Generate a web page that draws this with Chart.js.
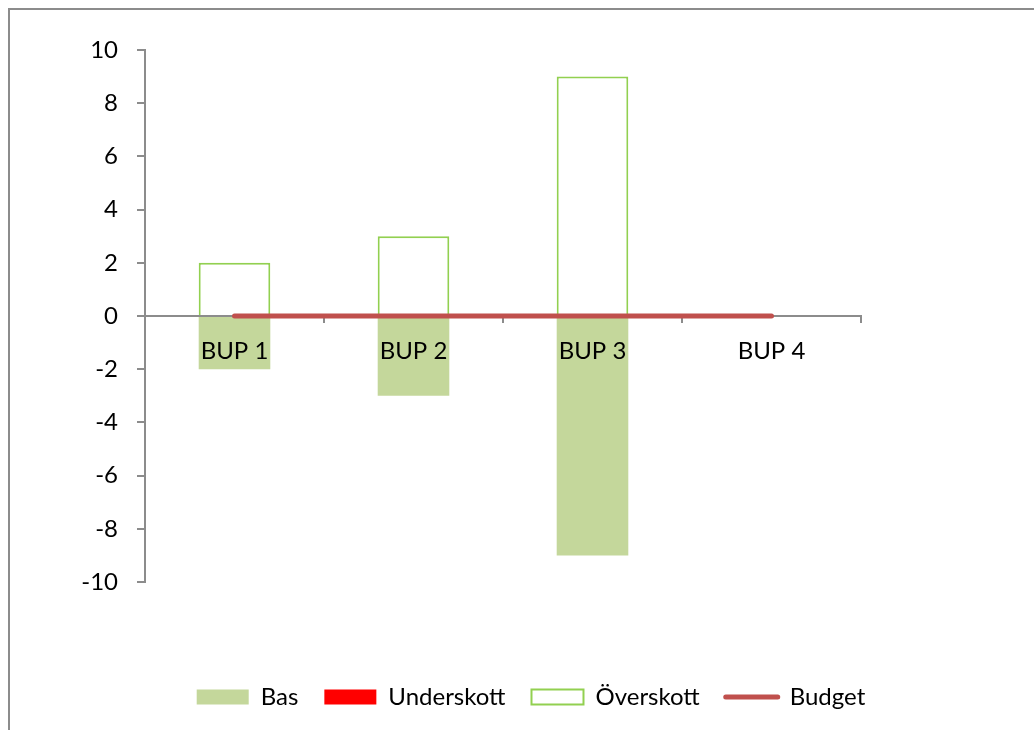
<!DOCTYPE html>
<html>
<head>
<meta charset="utf-8">
<script src="https://cdn.jsdelivr.net/npm/chart.js@4/dist/chart.umd.min.js"></script>
<style>
  html, body { margin: 0; padding: 0; background: #fff; overflow: hidden; }
  .frame {
    position: absolute; left: 8px; top: 8px; width: 2000px; height: 2000px;
    border-left: 2px solid #8c8c8c; border-top: 2px solid #8c8c8c;
  }
  #chart { position: absolute; left: 0; top: 0; }
</style>
</head>
<body>
<div class="frame"></div>
<canvas id="chart" width="1034" height="730"></canvas>
<script>
const categories = ['BUP 1', 'BUP 2', 'BUP 3', 'BUP 4'];
const basValues = [-2, -3, -9, 0];
const underskottValues = [0, 0, 0, 0];
const overskottValues = [2, 3, 9, 0];
const budgetValues = [0, 0, 0, 0];
const yMin = -10;
const yMax = 10;
const yStep = 2;

const AXIS_GREY = '#8c8c8c';
const LEGEND_PAD = 26;
const LEGEND_CENTER_X = 531;
const LEGEND_TOP = 697 - 12 - LEGEND_PAD;
// legend height = font 24 + padding + 10, plot bottom must land on y=582
const BOTTOM_PAD = 730 - 582 - (24 + LEGEND_PAD + 10);

Chart.defaults.font.family = 'Lato';
Chart.defaults.font.size = 24;
Chart.defaults.color = '#000';

// move the legend to where Excel put it, the layout alone can't do that
const legendShift = {
  id: 'legendShift',
  afterLayout(chart) {
    const lg = chart.legend;
    if (!lg) return;
    const dx = LEGEND_CENTER_X - (lg.left + lg.right) / 2;
    const dy = LEGEND_TOP - lg.top;
    lg.left += dx; lg.right += dx;
    lg.top += dy; lg.bottom += dy;
  }
};

new Chart(document.getElementById('chart'), {
  type: 'bar',
  data: {
    labels: categories,
    datasets: [
      { label: 'Bas', data: basValues, backgroundColor: '#C4D79B', borderWidth: 0 },
      { label: 'Underskott', data: underskottValues, backgroundColor: '#FF0000', borderWidth: 0 },
      { label: 'Överskott', data: overskottValues, backgroundColor: '#ffffff', borderColor: '#92D050', borderWidth: 2 },
      {
        type: 'line', label: 'Budget', data: budgetValues, order: -1,
        borderColor: '#C0504D', borderWidth: 5, borderCapStyle: 'round',
        pointRadius: 0, fill: false,
      },
    ],
  },
  options: {
    responsive: false,
    animation: false,
    devicePixelRatio: 1,
    categoryPercentage: 0.8,
    barPercentage: 0.5,
    layout: { padding: { left: 0, top: 50, right: 173, bottom: BOTTOM_PAD } },
    scales: {
      x: {
        stacked: true,
        position: { y: 0 },
        grid: { drawOnChartArea: false, offset: true, tickLength: 6, color: AXIS_GREY, lineWidth: 2 },
        border: { color: AXIS_GREY, width: 2 },
        // labels sit on top of the bars, like in Excel
        ticks: { padding: 15, color: '#000', z: 1 },
      },
      y: {
        stacked: true,
        min: yMin, max: yMax,
        afterFit(scale) { scale.width = 145; },
        grid: { drawOnChartArea: false, tickLength: 8, color: AXIS_GREY, lineWidth: 2 },
        border: { color: AXIS_GREY, width: 2 },
        ticks: { stepSize: yStep, padding: 19, color: '#000' },
      },
    },
    plugins: {
      tooltip: { enabled: false },
      legend: {
        position: 'bottom',
        labels: {
          usePointStyle: true,
          pointStyleWidth: 52,
          boxHeight: 15,
          padding: LEGEND_PAD,
          generateLabels(chart) {
            return chart.data.datasets.map((ds, i) => {
              const isLine = ds.type === 'line';
              return {
                text: ds.label,
                datasetIndex: i,
                pointStyle: isLine ? 'line' : 'rect',
                fillStyle: isLine ? ds.borderColor : ds.backgroundColor,
                strokeStyle: ds.borderColor || ds.backgroundColor,
                lineWidth: isLine ? 5 : (ds.borderWidth || 0),
                lineCap: isLine ? 'round' : 'butt',
                fontColor: '#000',
                hidden: false,
              };
            });
          },
        },
      },
    },
  },
  plugins: [legendShift],
});
</script>
</body>
</html>
